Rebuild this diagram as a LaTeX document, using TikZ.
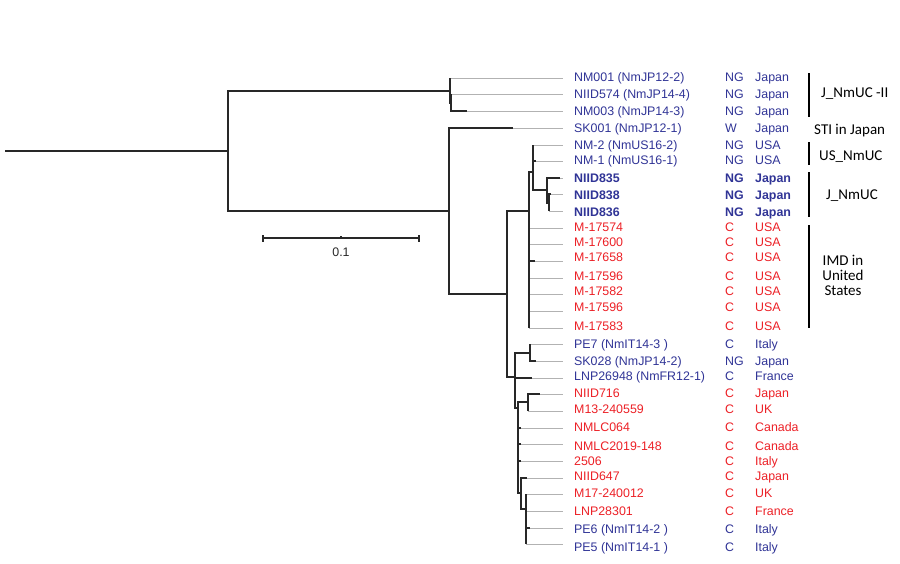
\documentclass[tikz,border=0pt]{standalone}
\usepackage{fontspec}
\setmainfont{Liberation Sans}
\newfontfamily\calibfont{Carlito}
\definecolor{nblue}{RGB}{48,52,150}
\definecolor{nred}{RGB}{236,32,38}
\definecolor{tgray}{RGB}{178,178,178}
\definecolor{tblack}{RGB}{40,40,40}
\newcommand\lblsize{\fontsize{12.4}{14}\selectfont}
\newcommand\annsize{\calibfont\fontsize{15}{15}\selectfont}
\tikzset{
  br/.style={draw=tblack, line width=1.1pt},
  ext/.style={draw=tgray, line width=0.9pt},
  lab/.style={anchor=base west, inner sep=0pt, font=\lblsize},
  ann/.style={anchor=base west, inner sep=0pt, font=\annsize, text=black},
  annc/.style={anchor=base, inner sep=0pt, font=\annsize, text=black},
  grpbar/.style={draw=black, line width=2pt},
  sbar/.style={draw=tblack, line width=1.1pt}
}
\newcommand\rowlab[6]{%
  \node[lab,text=#3] (#1) at (574,{#2+4.4}) {#4};
  \node[lab,text=#3] (#1s) at (725,{#2+4.4}) {#5};
  \node[lab,text=#3] (#1c) at (755,{#2+4.4}) {#6};}
\begin{document}
\begin{tikzpicture}[x=1pt,y=-1pt]
\useasboundingbox (0,0) rectangle (900,563);
% internal nodes
\coordinate (R0) at (5,151);
\coordinate (R) at (228,151);
\coordinate (T) at (450,91);
\coordinate (T2) at (451,103);
\coordinate (B1) at (449,211);
\coordinate (A) at (507,294);
\coordinate (B) at (529,211);
\coordinate (C) at (533,172);
\coordinate (D) at (547,190);
\coordinate (E) at (549,203);
\coordinate (F) at (515,377);
\coordinate (G) at (530,353);
\coordinate (H) at (518,408);
\coordinate (J) at (528,402);
\coordinate (K) at (521,493);
\coordinate (Kb) at (526,509);
\coordinate (X) at (563,0);
% leaves
\coordinate (l1) at (450,78);
\coordinate (l2) at (451,94);
\coordinate (l3) at (467,111);
\coordinate (l4) at (513,128);
\coordinate (l5) at (533,145);
\coordinate (l6) at (536,161);
\coordinate (l7) at (560,178);
\coordinate (l8) at (551,194);
\coordinate (l9) at (549,211);
\coordinate (l10) at (529,228);
\coordinate (l11) at (529,244);
\coordinate (l12) at (535,261);
\coordinate (l13) at (529,278);
\coordinate (l14) at (529,294);
\coordinate (l15) at (529,311);
\coordinate (l16) at (529,328);
\coordinate (l17) at (530,344);
\coordinate (l18) at (536,361);
\coordinate (l19) at (532,378);
\coordinate (l20) at (540,394);
\coordinate (l21) at (528,411);
\coordinate (l22) at (521,428);
\coordinate (l23) at (521,444);
\coordinate (l24) at (521,461);
\coordinate (l25) at (527,478);
\coordinate (l26) at (526,494);
\coordinate (l27) at (526,511);
\coordinate (l28) at (530,528);
\coordinate (l29) at (526,544);
% gray extensions
\foreach \i in {1,...,29} \draw[ext] (l\i) -- (l\i -| X);
% black branches
\draw[br] (R0) -- (R);
\draw[br] (R) |- (T);
\draw[br] (R) |- (B1);
\draw[br] (T) |- (l1);
\draw[br] (T) |- (T2);
\draw[br] (T2) |- (l2);
\draw[br] (T2) |- (l3);
\draw[br] (B1) |- (l4);
\draw[br] (B1) |- (A);
\draw[br] (A) |- (B);
\draw[br] (A) |- (F);
\draw[br] (B) |- (C);
\foreach \i in {10,...,16} \draw[br] (B) |- (l\i);
\draw[br] (C) |- (l5);
\draw[br] (C) |- (l6);
\draw[br] (C) |- (D);
\draw[br] (D) |- (l7);
\draw[br] (D) |- (E);
\draw[br] (E) |- (l8);
\draw[br] (E) |- (l9);
\draw[br] (F) |- (G);
\draw[br] (F) |- (l19);
\draw[br] (F) |- (H);
\draw[br] (G) |- (l17);
\draw[br] (G) |- (l18);
\draw[br] (H) |- (J);
\draw[br] (H) |- (l22);
\draw[br] (H) |- (l23);
\draw[br] (H) |- (l24);
\draw[br] (H) |- (K);
\draw[br] (J) |- (l20);
\draw[br] (J) |- (l21);
\draw[br] (K) |- (l25);
\draw[br] (K) |- (Kb);
\foreach \i in {26,...,29} \draw[br] (Kb) |- (l\i);
% scale bar
\coordinate (sb1) at (263,238);
\coordinate (sb2) at (419,238);
\coordinate (sbm) at (341,238);
\draw[sbar] (sb1) -- (sb2);
\draw[sbar] ([yshift=-3.5pt]sb1) -- ([yshift=3.5pt]sb1);
\draw[sbar] ([yshift=-3.5pt]sb2) -- ([yshift=3.5pt]sb2);
\draw[sbar] (sbm) -- ([yshift=2pt]sbm);
\node[inner sep=0pt, font=\lblsize, text=tblack, anchor=base] (sbl) at (341,256.5) {0.1};
% labels
\rowlab{t1}{77}{nblue}{NM001 (NmJP12-2)}{NG}{Japan}
\rowlab{t2}{94}{nblue}{NIID574 (NmJP14-4)}{NG}{Japan}
\rowlab{t3}{111}{nblue}{NM003 (NmJP14-3)}{NG}{Japan}
\rowlab{t4}{128}{nblue}{SK001 (NmJP12-1)}{W}{Japan}
\rowlab{t5}{145}{nblue}{NM-2 (NmUS16-2)}{NG}{USA}
\rowlab{t6}{160}{nblue}{NM-1 (NmUS16-1)}{NG}{USA}
\rowlab{t7}{178}{nblue}{\bfseries NIID835}{\bfseries NG}{\bfseries Japan}
\rowlab{t8}{195}{nblue}{\bfseries NIID838}{\bfseries NG}{\bfseries Japan}
\rowlab{t9}{212}{nblue}{\bfseries NIID836}{\bfseries NG}{\bfseries Japan}
\rowlab{t10}{227}{nred}{M-17574}{C}{USA}
\rowlab{t11}{242}{nred}{M-17600}{C}{USA}
\rowlab{t12}{257}{nred}{M-17658}{C}{USA}
\rowlab{t13}{276}{nred}{M-17596}{C}{USA}
\rowlab{t14}{291}{nred}{M-17582}{C}{USA}
\rowlab{t15}{307}{nred}{M-17596}{C}{USA}
\rowlab{t16}{326}{nred}{M-17583}{C}{USA}
\rowlab{t17}{344}{nblue}{PE7 (NmIT14-3 )}{C}{Italy}
\rowlab{t18}{361}{nblue}{SK028 (NmJP14-2)}{NG}{Japan}
\rowlab{t19}{376}{nblue}{LNP26948 (NmFR12-1)}{C}{France}
\rowlab{t20}{393}{nred}{NIID716}{C}{Japan}
\rowlab{t21}{409}{nred}{M13-240559}{C}{UK}
\rowlab{t22}{427}{nred}{NMLC064}{C}{Canada}
\rowlab{t23}{446}{nred}{NMLC2019-148}{C}{Canada}
\rowlab{t24}{461}{nred}{2506}{C}{Italy}
\rowlab{t25}{476}{nred}{NIID647}{C}{Japan}
\rowlab{t26}{493}{nred}{M17-240012}{C}{UK}
\rowlab{t27}{511}{nred}{LNP28301}{C}{France}
\rowlab{t28}{529}{nblue}{PE6 (NmIT14-2 )}{C}{Italy}
\rowlab{t29}{547}{nblue}{PE5 (NmIT14-1 )}{C}{Italy}
% group bars
\coordinate (g1a) at (809,73);  \coordinate (g1b) at (809,117);
\coordinate (g2a) at (809,142); \coordinate (g2b) at (809,165);
\coordinate (g3a) at (809,172); \coordinate (g3b) at (809,217);
\coordinate (g4a) at (809,225); \coordinate (g4b) at (809,328);
\draw[grpbar] (g1a) -- (g1b);
\draw[grpbar] (g2a) -- (g2b);
\draw[grpbar] (g3a) -- (g3b);
\draw[grpbar] (g4a) -- (g4b);
\node[ann] (a1) at (821,97.8) {J\_NmUC -II};
\node[ann] (a2) at (814,134.8) {STI in Japan};
\node[ann] (a3) at (819,160.8) {US\_NmUC};
\node[ann] (a4) at (826,199.8) {J\_NmUC};
\node[annc] (a5) at (843,265) {IMD in};
\node[annc] (a6) at (843,280) {United};
\node[annc] (a7) at (843,295) {States};
\end{tikzpicture}
\end{document}
